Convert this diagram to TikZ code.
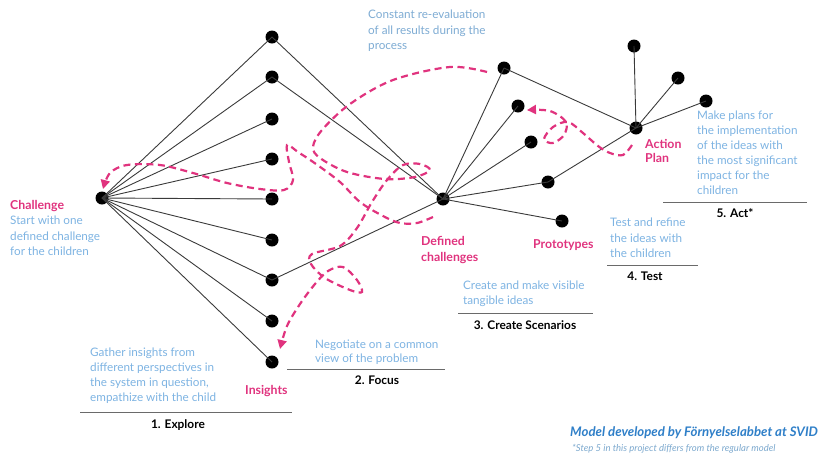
\documentclass[tikz,border=0pt]{standalone}
\usepackage{fontspec}
\setmainfont{Lato}
\usetikzlibrary{arrows.meta}
\definecolor{pinkline}{HTML}{E0337E}
\definecolor{noteblue}{HTML}{7DB3E2}
\definecolor{svidblue}{HTML}{2F7FC8}
\definecolor{edgegrey}{HTML}{3A3A3A}
\definecolor{rulegrey}{HTML}{6A6A6A}

\begin{document}
\begin{tikzpicture}[x=1pt,y=-1pt,
  dot/.style={circle,fill=black,inner sep=0pt,minimum size=13pt},
  edge/.style={draw=edgegrey,line width=0.9pt},
  loopline/.style={draw=pinkline,line width=2.2pt,dash pattern=on 7pt off 4.5pt,
    -{Triangle[length=9pt,width=9pt]}},
  tag/.style={text=pinkline,font=\bfseries\fontsize{12.3}{15.5}\selectfont,
    align=left,anchor=north west,inner sep=0pt},
  note/.style={text=noteblue,font=\fontsize{11.7}{15.5}\selectfont,
    align=left,anchor=north west,inner sep=0pt},
  stage/.style={font=\bfseries\fontsize{11.9}{13}\selectfont,inner sep=0pt},
  rule/.style={draw=rulegrey,line width=0.8pt}]

\useasboundingbox (0,0) rectangle (828,456);

% process nodes
\node[dot] (c) at (102,198) {};
\foreach \i/\y in {1/37,2/77,3/119,4/159,5/199,6/240,7/280,8/321,9/362}
  \node[dot] (l\i) at (272,\y) {};
\node[dot] (d) at (443,199) {};
\node[dot] (r1) at (504,68) {};
\node[dot] (r2) at (518,106) {};
\node[dot] (r3) at (531,142) {};
\node[dot] (r4) at (548,182) {};
\node[dot] (r5) at (562,221) {};
\node[dot] (a) at (636,128) {};
\node[dot] (t1) at (634,46) {};
\node[dot] (t2) at (678,78) {};
\node[dot] (t3) at (706,101) {};

% connectors
\foreach \i in {1,...,9} \draw[edge] (c.center) -- (l\i.center);
\foreach \i in {1,2,7} \draw[edge] (d.center) -- (l\i.center);
\foreach \i in {1,...,5} \draw[edge] (d.center) -- (r\i.center);
\draw[edge] (r1.center) -- (a.center);
\draw[edge] (r4.center) -- (a.center);
\foreach \i in {1,2,3} \draw[edge] (a.center) -- (t\i.center);

% iteration loops
\coordinate (p1) at (487,72);
\coordinate (q1) at (280,349);
\draw[loopline] plot[smooth,tension=0.55] coordinates {
  (p1) (450,67) (393,80) (350,104) (322,130) (313,147) (320,158) (347,172)
  (385,179) (415,177) (430,170) (420,164) (403,165) (387,180) (372,202)
  (357,228) (340,246) (312,254) (311,264) (325,278) (350,290) (362,292)
  (357,280) (343,267) (328,271) (315,284) (300,304) (287,326) (q1)};

\coordinate (p2) at (433,217);
\coordinate (q2) at (103,189);
\draw[loopline] plot[smooth,tension=0.55] coordinates {
  (p2) (417,223) (400,223) (383,216) (360,202) (340,182) (316,164) (298,152)
  (287,145) (289,162) (293,180) (284,190) (260,189) (227,183) (193,173)
  (160,165) (127,165) (110,173) (q2)};

\coordinate (p3) at (632,145);
\coordinate (q3) at (527,110);
\draw[loopline] plot[smooth,tension=0.55] coordinates {
  (p3) (623,155) (610,153) (598,146) (583,133) (568,122) (553,127) (544,139)
  (553,143) (564,135) (566,122) (550,111) (q3)};

% labels of the nodes
\node[tag] (challengetag) at (10,200) {Challenge};
\node[note] (challengenote) at (10,216) {Start with one\\defined challenge\\for the children};
\node[note,text=noteblue!85!gray] (constantnote) at (368,10) {Constant re-evaluation\\of all results during the\\process};
\node[tag] (insightstag) at (245,385) {Insights};
\node[tag,font=\bfseries\fontsize{12.3}{16.5}\selectfont] (definedtag) at (421,236) {Defined\\challenges};
\node[tag] (prototag) at (533,239) {Prototypes};
\node[tag,font=\bfseries\fontsize{12.3}{14.5}\selectfont] (actiontag) at (645,139) {Action\\Plan};

% stage descriptions
\node[note,font=\fontsize{11.7}{15}\selectfont] (explorenote) at (90,348) {Gather insights from\\different perspectives in\\the system in question,\\empathize with the child};
\node[note,font=\fontsize{11.7}{14}\selectfont] (focusnote) at (315,340) {Negotiate on a common\\view of the problem};
\node[note,font=\fontsize{11.7}{15}\selectfont] (scenarionote) at (463,281) {Create and make visible\\tangible ideas};
\node[note] (testnote) at (610,218) {Test and refine\\the ideas with\\the children};
\node[note,font=\fontsize{11.7}{15}\selectfont] (actnote) at (697,111) {Make plans for\\the implementation\\of the ideas with\\the most significant\\impact for the\\children};

% stage rules and titles
\coordinate (e1) at (80,412);  \coordinate (e2) at (292,412);
\coordinate (f1) at (287,369); \coordinate (f2) at (445,369);
\coordinate (s1) at (458,313); \coordinate (s2) at (593,313);
\coordinate (g1) at (607,265); \coordinate (g2) at (698,265);
\coordinate (h1) at (663,202); \coordinate (h2) at (807,202);
\draw[rule] (e1) -- (e2);
\draw[rule] (f1) -- (f2);
\draw[rule] (s1) -- (s2);
\draw[rule] (g1) -- (g2);
\draw[rule] (h1) -- (h2);
\node[stage] (explore) at (178,425) {1. Explore};
\node[stage] (focus) at (377,380) {2. Focus};
\node[stage] (scenarios) at (525,325) {3. Create Scenarios};
\node[stage] (test) at (645,276) {4. Test};
\node[stage] (act) at (735,213) {5. Act*};

% credit
\node[anchor=west,inner sep=0pt,text=svidblue,font=\bfseries\itshape\fontsize{13.2}{15}\selectfont] (credit) at (570,433) {Model developed by Förnyelselabbet at SVID};
\node[anchor=west,inner sep=0pt,text=noteblue!80!gray,font=\itshape\fontsize{9.5}{11}\selectfont] (footnote) at (572,449) {*Step 5 in this project differs from the regular model};
\end{tikzpicture}
\end{document}
